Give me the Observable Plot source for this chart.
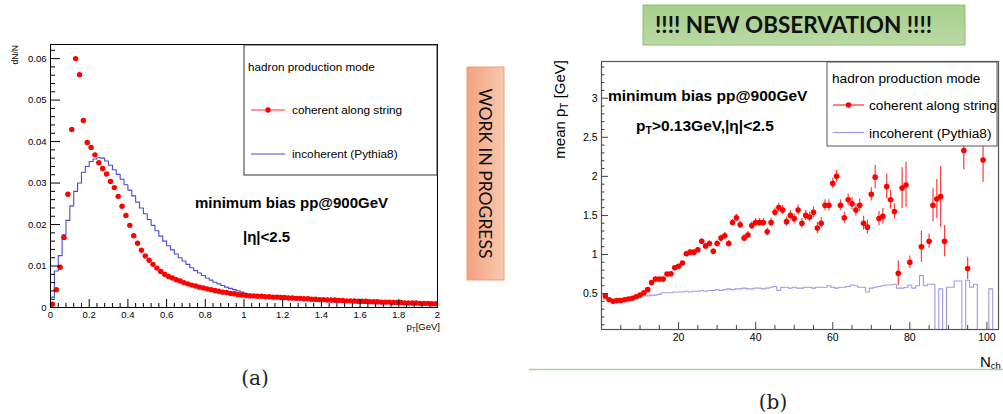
<!DOCTYPE html>
<html><head><meta charset="utf-8">
<script src="https://cdn.jsdelivr.net/npm/d3@7"></script>
<script src="https://cdn.jsdelivr.net/npm/@observablehq/plot@0.6"></script>
<style>
body{margin:0;background:#fff;width:1003px;height:414px;position:relative;overflow:hidden;font-family:"Liberation Sans",Arial,sans-serif;}
#pa,#pb,#ov{position:absolute;}
#pa{left:0;top:0;}
#pb{left:520px;top:50px;}
#ov{left:0;top:0;}
</style></head><body>
<div id="pa"></div>
<div id="pb"></div>
<svg id="ov" width="1003" height="414" xmlns="http://www.w3.org/2000/svg" font-family="Liberation Sans, Arial, sans-serif">
  <defs>
    <linearGradient id="gOrange" x1="0" x2="1" y1="0" y2="0">
      <stop offset="0" stop-color="#f3a27f"/><stop offset="1" stop-color="#f8c8b0"/>
    </linearGradient>
    <linearGradient id="gGreen" x1="0" x2="0" y1="0" y2="1">
      <stop offset="0" stop-color="#a7cf8b"/><stop offset="1" stop-color="#b9d9a4"/>
    </linearGradient>
  </defs>
  <!-- panel (a) annotations -->
  <text x="18" y="45" font-size="8.5" text-anchor="end" transform="rotate(-90 18 45)">dN/N</text>
  <text x="440" y="330" font-size="9.5" text-anchor="end">p<tspan font-size="6.5" dy="2">T</tspan><tspan dy="-2">[GeV]</tspan></text>
  <rect x="244" y="45" width="193" height="130" fill="#fff" stroke="#333" stroke-width="1"/>
  <text x="248" y="71" font-size="11.7">hadron production mode</text>
  <line x1="251" x2="285" y1="110" y2="110" stroke="#ff3030" stroke-width="1.2"/>
  <circle cx="268" cy="110" r="2.7" fill="#f00"/>
  <text x="292" y="114" font-size="11.8">coherent along string</text>
  <line x1="251" x2="285" y1="154" y2="154" stroke="#4a4ad4" stroke-width="1.2"/>
  <text x="292" y="158" font-size="11.8">incoherent (Pythia8)</text>
  <text x="195" y="208" font-size="15" font-weight="bold">minimum bias pp@900GeV</text>
  <text x="243" y="242" font-size="15" font-weight="bold">|η|&lt;2.5</text>
  <!-- work in progress -->
  <rect x="467" y="67" width="37" height="213" fill="url(#gOrange)" stroke="#f0a070" stroke-width="1"/>
  <text x="485.5" y="173.5" font-family="Lato, 'Open Sans', sans-serif" font-size="17.5" fill="#111" text-anchor="middle" dominant-baseline="central" transform="rotate(90 485.5 173.5)">WORK IN PROGRESS</text>
  <!-- banner -->
  <rect x="643" y="5" width="322" height="40" fill="url(#gGreen)" stroke="#8fc070" stroke-width="1"/>
  <text x="655" y="33" font-family="Lato, 'Open Sans', sans-serif" font-weight="bold" font-size="22.5" fill="#111">!!!! NEW OBSERVATION !!!!</text>
  <!-- panel (b) annotations -->
  <text x="565" y="60" font-size="15" text-anchor="end" transform="rotate(-90 565 60)">mean p<tspan font-size="10" dy="3">T</tspan><tspan dy="-3"> [GeV]</tspan></text>
  <text x="608" y="101" font-size="15.5" font-weight="bold">minimum bias pp@900GeV</text>
  <text x="636" y="131" font-size="15.5" font-weight="bold">p<tspan font-size="10.5" dy="3">T</tspan><tspan dy="-3">&gt;0.13GeV,|η|&lt;2.5</tspan></text>
  <rect x="827" y="62" width="170" height="84" fill="#fff" stroke="#555" stroke-width="1"/>
  <text x="832" y="83" font-size="13.7">hadron production mode</text>
  <line x1="833" x2="864" y1="105" y2="105" stroke="#ff3030" stroke-width="1.2"/>
  <circle cx="848.5" cy="105" r="2.8" fill="#f00"/>
  <text x="869" y="110" font-size="13.7">coherent along string</text>
  <line x1="833" x2="864" y1="132.5" y2="132.5" stroke="#9b9be6" stroke-width="1.2"/>
  <text x="869" y="138" font-size="13.7">incoherent (Pythia8)</text>
  <text x="980" y="367" font-size="15">N<tspan font-size="9.5" dy="2">ch</tspan></text>
  <line x1="529" x2="1003" y1="369.5" y2="369.5" stroke="#b4cda6" stroke-width="1.5"/>
  <text x="255" y="385" font-family="DejaVu Serif, serif" font-size="20" text-anchor="middle" fill="#222">(a)</text>
  <text x="773" y="409" font-family="DejaVu Serif, serif" font-size="20" text-anchor="middle" fill="#222">(b)</text>
</svg>
<script>
// ---------------- Panel (a): dN/N vs pT ----------------
const binWidthA = 0.02;
const redA = [0.0008,0.0043,0.0097,0.0169,0.0273,0.0429,0.0600,0.0561,0.0451,0.0398,
  0.0386,0.0368,0.0349,0.0335,0.0322,0.0304,0.0289,0.0268,0.0244,0.0222,
  0.0198,0.0173,0.0155,0.0138,0.0124,0.0114,0.0104,0.0095,0.0087,0.0080,
  0.0075,0.0071,0.0067,0.0064,0.0060,0.0057,0.0054,0.0052,0.0049,0.0047,
  0.0045,0.0043,0.0041,0.0039,0.0037,0.0036,0.0034,0.0033,0.0031,0.0030,
  0.0029,0.0028,0.0028,0.0027,0.0027,0.0026,0.0026,0.0025,0.0025,0.0024,
  0.0024,0.0023,0.0023,0.0022,0.0022,0.0021,0.0021,0.0020,0.0020,0.0019,
  0.0019,0.0018,0.0018,0.0018,0.0017,0.0017,0.0016,0.0016,0.0016,0.0015,
  0.0015,0.0015,0.0014,0.0014,0.0014,0.0013,0.0013,0.0013,0.0012,0.0012,
  0.0012,0.0011,0.0011,0.0011,0.0011,0.0010,0.0010,0.0010,0.0009,0.0009];
const blueA = [0.0025,0.0088,0.0125,0.0175,0.0210,0.0245,0.0280,0.0300,0.0326,0.0340,
  0.0352,0.0358,0.0361,0.0360,0.0353,0.0343,0.0332,0.0321,0.0309,0.0296,
  0.0283,0.0269,0.0254,0.0240,0.0226,0.0212,0.0198,0.0185,0.0172,0.0160,
  0.0149,0.0139,0.0129,0.0120,0.0112,0.0104,0.0096,0.0089,0.0083,0.0077,
  0.0071,0.0066,0.0061,0.0057,0.0053,0.0049,0.0046,0.0043,0.0040,0.0037,
  0.0034,0.0032,0.0030,0.0029,0.0027,0.0026,0.0025,0.0024,0.0023,0.0022,
  0.0021,0.0020,0.0020,0.0019,0.0018,0.0018,0.0017,0.0016,0.0016,0.0015,
  0.0015,0.0014,0.0014,0.0013,0.0013,0.0012,0.0012,0.0012,0.0011,0.0011,
  0.0011,0.0010,0.0010,0.0010,0.0009,0.0009,0.0009,0.0009,0.0008,0.0008,
  0.0008,0.0008,0.0007,0.0007,0.0007,0.0007,0.0007,0.0006,0.0006,0.0006];
const yMajorA = [0,0.01,0.02,0.03,0.04,0.05,0.06];
const yMinorA = [0.002,0.004,0.006,0.008,0.012,0.014,0.016,0.018,0.022,0.024,0.026,0.028,0.032,0.034,0.036,0.038,0.042,0.044,0.046,0.048,0.052,0.054,0.056,0.058,0.062];
const xMajorA = [0,0.2,0.4,0.6,0.8,1,1.2,1.4,1.6,1.8,2];
const xMinorA = [0.04,0.08,0.12,0.16,0.24,0.28,0.32,0.36,0.44,0.48,0.52,0.56,0.64,0.68,0.72,0.76,0.84,0.88,0.92,0.96,1.04,1.08,1.12,1.16,1.24,1.28,1.32,1.36,1.44,1.48,1.52,1.56,1.64,1.68,1.72,1.76,1.84,1.88,1.92,1.96];

const redAData = redA.map((v,i)=>({x: binWidthA*(i+0.5), x1: binWidthA*i, x2: binWidthA*(i+1), y: v}));
const blueAData = blueA.map((v,i)=>({x: binWidthA*i, y: v})).concat([{x: binWidthA*blueA.length, y: blueA[blueA.length-1]}]);

const WA = 450, HA = 345, mA = {l:50, r:13, t:44, b:38};
const pwA = WA - mA.l - mA.r, phA = HA - mA.t - mA.b;
const chartA = Plot.plot({
  width: WA, height: HA, marginLeft: mA.l, marginRight: mA.r, marginTop: mA.t, marginBottom: mA.b,
  style: {fontFamily: "Liberation Sans, Arial, sans-serif", fontSize: "9.5px", color: "#000", background: "transparent", overflow: "visible"},
  x: {domain: [0, 2], ticks: xMajorA, tickSize: 0, tickPadding: 4, label: null, tickFormat: d => d3.format("~g")(d)},
  y: {domain: [0, 0.0634], ticks: yMajorA, tickSize: 0, tickPadding: 4, label: null, tickFormat: d => d === 0 ? "0" : d3.format(".2f")(d)},
  marks: [
    Plot.line(blueAData, {x: "x", y: "y", curve: "step-after", stroke: "#4a4ad4", strokeWidth: 1.1}),
    Plot.ruleY(redAData, {y: "y", x1: "x1", x2: "x2", stroke: "#ff2020", strokeWidth: 1.6}),
    Plot.dot(redAData, {x: "x", y: "y", r: 2.7, fill: "#ff0000", stroke: "none"}),
    Plot.frame({stroke: "#000", strokeWidth: 1}),
    Plot.tickY(yMajorA, {y: d => d, insetRight: pwA - 10, stroke: "#000"}),
    Plot.tickY(yMinorA, {y: d => d, insetRight: pwA - 5, stroke: "#000"}),
    Plot.tickX(xMajorA, {x: d => d, insetTop: phA - 8, stroke: "#000"}),
    Plot.tickX(xMinorA, {x: d => d, insetTop: phA - 4, stroke: "#000"})
  ]
});
document.getElementById("pa").appendChild(chartA);

// ---------------- Panel (b): mean pT vs Nch ----------------
const nchRed = [1,2,3,4,5,6,7,8,9,10,11,12,13,14,15,16,17,18,19,20,
  21,22,23,24,25,26,27,28,29,30,31,32,33,34,35,36,37,38,39,40,
  41,42,43,44,45,46,47,48,49,50,51,52,53,54,55,56,57,58,59,60,
  61,62,63,64,65,66,67,68,69,70,71,72,73,74,75,76,77,78,79,80,
  81,83,85,86,87,88,89,94,95,99];
const meanRed = [0.47,0.42,0.40,0.41,0.41,0.42,0.43,0.44,0.46,0.48,0.51,0.55,0.64,0.685,0.685,0.685,0.75,0.754,0.83,0.85,
  0.89,1.01,1.03,1.03,1.06,1.17,1.11,1.14,1.04,1.14,1.21,1.24,1.14,1.41,1.47,1.38,1.21,1.25,1.37,1.41,
  1.41,1.41,1.29,1.41,1.54,1.60,1.57,1.42,1.50,1.46,1.57,1.40,1.50,1.48,1.54,1.34,1.40,1.63,1.63,1.91,
  2.00,1.63,1.47,1.70,1.65,1.57,1.63,1.40,1.35,1.77,1.99,1.46,1.49,1.87,1.70,1.55,0.76,1.85,1.89,0.90,
  2.90,1.10,1.17,1.63,1.71,1.74,1.17,2.33,0.82,2.21];
const errRed = [0.01,0.01,0.01,0.01,0.01,0.01,0.01,0.01,0.01,0.01,0.015,0.015,0.02,0.02,0.02,0.02,0.02,0.02,0.025,0.025,
  0.025,0.03,0.03,0.03,0.03,0.03,0.035,0.035,0.035,0.035,0.04,0.04,0.04,0.04,0.045,0.045,0.045,0.045,0.05,0.05,
  0.05,0.05,0.05,0.055,0.055,0.055,0.06,0.06,0.06,0.06,0.065,0.065,0.065,0.065,0.07,0.07,0.07,0.07,0.07,0.065,
  0.075,0.07,0.07,0.075,0.08,0.08,0.08,0.09,0.09,0.085,0.15,0.09,0.10,0.16,0.12,0.10,0.16,0.26,0.29,0.08,
  0.27,0.20,0.09,0.21,0.25,0.39,0.20,0.25,0.14,0.29];
const blueB = [0.43,0.42,0.42,0.43,0.43,0.43,0.44,0.44,0.45,0.46,0.47,0.47,0.48,0.48,0.49,0.51,0.51,0.51,0.52,0.52,
  0.52,0.53,0.52,0.53,0.53,0.54,0.53,0.54,0.54,0.55,0.54,0.55,0.56,0.55,0.56,0.56,0.57,0.56,0.56,0.57,
  0.57,0.56,0.57,0.58,0.59,0.54,0.58,0.58,0.57,0.58,0.57,0.57,0.58,0.58,0.57,0.58,0.58,0.58,0.60,0.58,
  0.57,0.58,0.58,0.59,0.61,0.60,0.58,0.58,0.52,0.57,0.58,0.59,0.60,0.61,0.61,0.62,0.57,0.57,0.58,0.61,
  0.57,0.60,0.73,0.60,0.62,0.62,0,0.56,0,0.58,0.58,0.66,0.66,0,0.67,0.58,0.62,0,0,0,0.56,0,0];
const yMajorB = [0.5,1,1.5,2,2.5,3];
const yMinorB = [0.1,0.2,0.3,0.4,0.6,0.7,0.8,0.9,1.1,1.2,1.3,1.4,1.6,1.7,1.8,1.9,2.1,2.2,2.3,2.4,2.6,2.7,2.8,2.9,3.1,3.2,3.3,3.4];
const xMajorB = [20,40,60,80,100];
const xMinorB = [5,10,15,25,30,35,45,50,55,65,70,75,85,90,95];

const redBData = nchRed.map((n,i)=>({n, v: meanRed[i], e: errRed[i]}));
const blueBData = blueB.map((v,i)=>({x: i + 0.5, y: v})).concat([{x: blueB.length + 0.5, y: blueB[blueB.length-1]}]);

const WB = 483, HB = 310, mB = {l:81, r:5, t:11, b:31};
const pwB = WB - mB.l - mB.r, phB = HB - mB.t - mB.b;
const chartB = Plot.plot({
  width: WB, height: HB, marginLeft: mB.l, marginRight: mB.r, marginTop: mB.t, marginBottom: mB.b,
  style: {fontFamily: "Liberation Sans, Arial, sans-serif", fontSize: "10.5px", color: "#000", background: "transparent"},
  x: {domain: [0, 103], ticks: xMajorB, tickSize: 0, tickPadding: 4, label: null, tickFormat: d => d3.format("~g")(d)},
  y: {domain: [0.04, 3.47], ticks: yMajorB, tickSize: 0, tickPadding: 4, label: null, tickFormat: d => d3.format("~g")(d)},
  marks: [
    Plot.line(blueBData, {x: "x", y: "y", curve: "step-after", stroke: "#9b9be6", strokeWidth: 1.1, clip: true}),
    Plot.ruleX(redBData, {x: "n", y1: d => d.v - d.e, y2: d => d.v + d.e, stroke: "#ff3b3b", strokeWidth: 1.2, clip: true}),
    Plot.dot(redBData, {x: "n", y: "v", r: 2.8, fill: "#ff0000", stroke: "none", clip: true}),
    Plot.frame({stroke: "#555", strokeWidth: 1.2}),
    Plot.tickY(yMajorB, {y: d => d, insetRight: pwB - 7, stroke: "#444"}),
    Plot.tickY(yMinorB, {y: d => d, insetRight: pwB - 3.5, stroke: "#444"}),
    Plot.tickX(xMajorB, {x: d => d, insetTop: phB - 7, stroke: "#444"}),
    Plot.tickX(xMinorB, {x: d => d, insetTop: phB - 4, stroke: "#444"})
  ]
});
document.getElementById("pb").appendChild(chartB);
</script>
</body></html>
